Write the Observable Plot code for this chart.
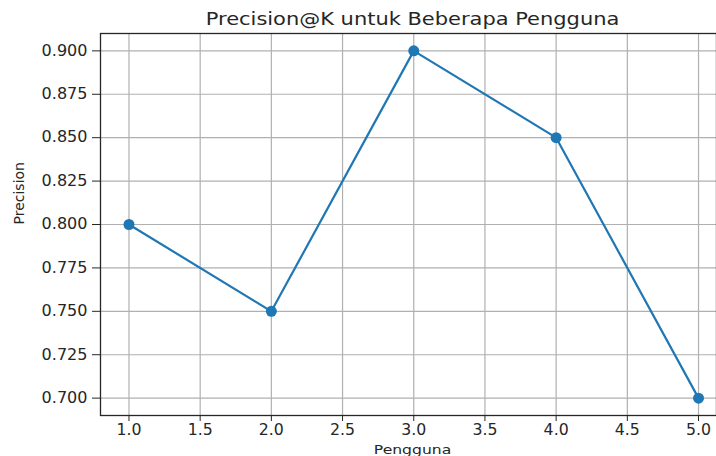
<!DOCTYPE html>
<html>
<head>
<meta charset="utf-8">
<script src="https://cdn.jsdelivr.net/npm/d3@7"></script>
<script src="https://cdn.jsdelivr.net/npm/@observablehq/plot@0.6"></script>
<style>
  html, body { margin: 0; padding: 0; background: #fff; overflow: hidden; }
  svg { overflow: hidden; }
</style>
</head>
<body>
<div id="chart"></div>
<script>
const users = [1, 2, 3, 4, 5];
const precision = [0.80, 0.75, 0.90, 0.85, 0.70];
const xTicks = [1.0, 1.5, 2.0, 2.5, 3.0, 3.5, 4.0, 4.5, 5.0];
const yTicks = [0.700, 0.725, 0.750, 0.775, 0.800, 0.825, 0.850, 0.875, 0.900];
const title = "Precision@K untuk Beberapa Pengguna";
const xLabel = "Pengguna";
const yLabel = "Precision";

const data = users.map((u, i) => ({user: u, precision: precision[i]}));
const font = "DejaVu Sans, sans-serif";
const blue = "#1f77b4";
const ink = "#262626";

const plot = Plot.plot({
  width: 716,
  height: 456,
  marginLeft: 100,
  marginTop: 33,
  marginBottom: 41,
  marginRight: 0,
  style: {fontFamily: font, fontSize: "15px", color: ink, background: "#fff"},
  x: {domain: [0.8, 5.2], range: [100, 726.5]},
  y: {domain: [0.69, 0.91]},
  marks: [
    Plot.gridX(xTicks, {stroke: "#b0b0b0", strokeOpacity: 1, strokeWidth: 1.2}),
    Plot.gridY(yTicks, {stroke: "#b0b0b0", strokeOpacity: 1, strokeWidth: 1.2}),
    Plot.frame({stroke: ink, strokeWidth: 1.3}),
    Plot.axisX(xTicks, {tickSize: 6, tickPadding: 3, tickFormat: d3.format(".1f"), fontSize: 15, stroke: ink,
      label: null}),
    Plot.axisY(yTicks, {tickSize: 8, tickPadding: 5, tickFormat: d3.format(".3f"), fontSize: 15, stroke: ink, label: null}),
    Plot.text([xLabel], {frameAnchor: "bottom", dx: 4, dy: 38, lineAnchor: "bottom", text: d => d, fontSize: 13, fill: ink}),
    Plot.text([yLabel], {frameAnchor: "left", dx: -81, rotate: -90, text: d => d, fontSize: 14, fill: ink}),
    Plot.text([title], {frameAnchor: "top", dx: 4, dy: -14, text: d => d, fontSize: 18, fill: ink, lineAnchor: "middle"}),
    Plot.line(data, {x: "user", y: "precision", stroke: blue, strokeWidth: 2.2}),
    Plot.dot(data, {x: "user", y: "precision", fill: blue, r: 5.5, stroke: "none"})
  ]
});
document.getElementById("chart").appendChild(plot);

// The reference rendering is slightly stretched horizontally; widen glyphs to match.
function widen(test, factor) {
  plot.querySelectorAll("text").forEach(t => {
    if (!test(t.textContent)) return;
    const tr = t.getAttribute("transform");
    if (tr) {
      t.setAttribute("transform", tr + ` scale(${factor},1)`);
    } else {
      const x = +(t.getAttribute("x") || 0), y = +(t.getAttribute("y") || 0);
      t.setAttribute("transform", `translate(${x},${y}) scale(${factor},1) translate(${-x},${-y})`);
    }
  });
}
widen(s => s === title, 1.165);
widen(s => /^0\.\d{3}$/.test(s), 1.07);
widen(s => /^\d\.\d$/.test(s), 1.05);
widen(s => s === xLabel, 1.2);
</script>
</body>
</html>
